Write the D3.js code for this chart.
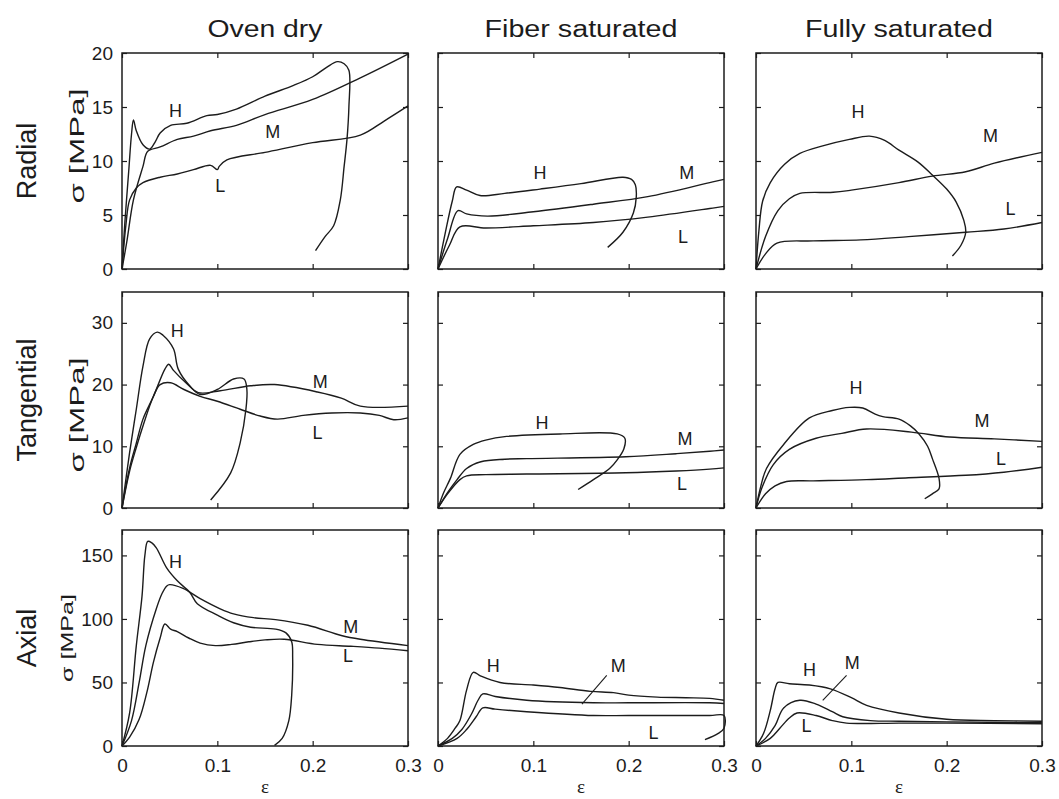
<!DOCTYPE html>
<html>
<head>
<meta charset="utf-8">
<script src="https://cdn.jsdelivr.net/npm/d3@7"></script>
<style>
  body { margin: 0; background: #fff; }
  svg { display: block; font-family: "Liberation Sans", Arial, Helvetica, sans-serif; }
</style>
</head>
<body>
<svg id="chart"></svg>
<script>
// strain (eps) vs stress (sigma, MPa)
var epsTicks = [0, 0.1, 0.2, 0.3];
var columnTitles = ["Oven dry", "Fiber saturated", "Fully saturated"];
var rowTitles = ["Radial", "Tangential", "Axial"];
var sigmaMax = [20, 35, 170];
var sigmaTicks = [[0, 5, 10, 15, 20], [0, 10, 20, 30], [0, 50, 100, 150]];

// --- Radial ---
var radialOvenH = [[0,0],[0.003,4.3],[0.007,9],[0.010,12.5],[0.012,13.8],[0.015,12.8],[0.022,11.5],[0.029,11.1],[0.035,11.8],[0.040,12.6],[0.051,13.3],[0.068,13.5],[0.089,14.2],[0.1,14.3],[0.12,14.8],[0.15,16.0],[0.18,17.0],[0.2,17.8],[0.215,18.7],[0.226,19.2],[0.233,19.0],[0.238,18.4],[0.238,15],[0.236,12],[0.233,9.5],[0.229,6.4],[0.222,4],[0.213,3],[0.203,1.7]];
var radialOvenM = [[0,0],[0.005,2.5],[0.012,6.4],[0.022,9.5],[0.027,10.9],[0.040,11.3],[0.058,12],[0.075,12.3],[0.093,12.8],[0.12,13.3],[0.15,14.3],[0.2,15.7],[0.25,17.7],[0.3,19.9]];
var radialOvenL = [[0,0],[0.004,4],[0.008,6.4],[0.015,7.5],[0.022,8.0],[0.04,8.5],[0.058,8.8],[0.075,9.2],[0.093,9.6],[0.1,9.2],[0.102,9.5],[0.11,10.1],[0.15,10.8],[0.2,11.7],[0.25,12.4],[0.275,13.7],[0.3,15.1]];
var radialOvenLabels = [["H",0.056,14.6],["M",0.158,12.7],["L",0.103,7.7]];

var radialFiberH = [[0,0],[0.008,3.5],[0.015,6.3],[0.0196,7.6],[0.03,7.3],[0.044,6.8],[0.07,7.0],[0.107,7.4],[0.15,7.9],[0.194,8.5],[0.203,8.3],[0.207,7.8],[0.208,6.7],[0.205,5.2],[0.194,3.4],[0.178,2.0]];
var radialFiberM = [[0,0],[0.01,2.8],[0.021,5.4],[0.03,5.1],[0.052,4.9],[0.1,5.3],[0.163,6.0],[0.22,6.7],[0.285,8.0],[0.3,8.3]];
var radialFiberL = [[0,0],[0.012,2.2],[0.023,3.9],[0.05,3.8],[0.1,4.0],[0.163,4.3],[0.22,4.8],[0.285,5.6],[0.3,5.8]];
var radialFiberLabels = [["H",0.107,8.9],["M",0.261,8.9],["L",0.257,3.0]];

var radialFullyH = [[0,0],[0.003,3.5],[0.007,6.3],[0.015,8.0],[0.03,9.7],[0.046,10.7],[0.07,11.4],[0.098,12.0],[0.119,12.3],[0.135,11.9],[0.15,11.0],[0.17,9.9],[0.185,8.7],[0.2,7.4],[0.21,6.2],[0.218,4.5],[0.22,3.4],[0.215,2.2],[0.206,1.2]];
var radialFullyM = [[0,0],[0.01,3.0],[0.023,5.4],[0.035,6.5],[0.046,7.0],[0.081,7.1],[0.1,7.3],[0.15,8.0],[0.185,8.6],[0.22,9.0],[0.25,9.8],[0.3,10.8]];
var radialFullyL = [[0,0],[0.01,1.4],[0.022,2.4],[0.06,2.6],[0.11,2.7],[0.16,3.0],[0.22,3.4],[0.26,3.7],[0.3,4.3]];
var radialFullyLabels = [["H",0.107,14.5],["M",0.246,12.3],["L",0.267,5.6]];

// --- Tangential ---
var tangOvenH = [[0,0],[0.008,9],[0.015,16],[0.022,23],[0.029,27.4],[0.037,28.5],[0.043,28],[0.054,25.8],[0.059,22.5],[0.071,19.8],[0.082,18.4],[0.1,19.2],[0.117,20.9],[0.128,20.9],[0.131,19.2],[0.13,16],[0.124,10.6],[0.114,5.7],[0.093,1.3]];
var tangOvenM = [[0,0],[0.008,6.5],[0.015,10.5],[0.022,14.4],[0.033,18.1],[0.045,22.5],[0.049,23.3],[0.054,22.3],[0.067,20.3],[0.08,18.7],[0.103,19.0],[0.135,19.8],[0.16,20.0],[0.205,18.8],[0.23,17.8],[0.25,16.5],[0.3,16.5]];
var tangOvenL = [[0,0],[0.008,6],[0.015,9.8],[0.022,13.3],[0.033,18.1],[0.04,20],[0.051,20.3],[0.065,19.2],[0.082,18.1],[0.1,17.3],[0.124,16],[0.145,14.9],[0.163,14.4],[0.19,15],[0.22,15.4],[0.25,15.4],[0.27,15.0],[0.285,14.3],[0.3,14.6]];
var tangOvenLabels = [["H",0.058,28.7],["M",0.208,20.4],["L",0.205,12.2]];

var tangFiberH = [[0,0],[0.006,2.5],[0.013,4.8],[0.023,8.7],[0.037,10.3],[0.05,11.0],[0.072,11.6],[0.128,12.0],[0.188,12.0],[0.196,11.3],[0.195,9.6],[0.188,7.8],[0.18,6.4],[0.163,4.6],[0.147,3.0]];
var tangFiberM = [[0,0],[0.01,2.5],[0.02,4.6],[0.03,6.4],[0.045,7.5],[0.07,7.9],[0.093,8.0],[0.197,8.3],[0.25,8.8],[0.285,9.2],[0.3,9.4]];
var tangFiberL = [[0,0],[0.01,2.3],[0.023,4.6],[0.03,5.2],[0.05,5.4],[0.093,5.5],[0.197,5.7],[0.25,6.0],[0.285,6.3],[0.3,6.5]];
var tangFiberLabels = [["H",0.109,13.8],["M",0.259,11.1],["L",0.256,3.9]];

var tangFullyH = [[0,0],[0.005,3.5],[0.011,6.4],[0.029,10.3],[0.056,14.6],[0.08,15.8],[0.098,16.3],[0.112,16.2],[0.125,15.2],[0.133,14.8],[0.15,14.4],[0.162,13.3],[0.171,12.0],[0.18,10],[0.185,8],[0.192,4.8],[0.192,3.1],[0.185,2.3],[0.177,1.5]];
var tangFullyM = [[0,0],[0.006,3.2],[0.018,7.0],[0.035,9.5],[0.063,11.3],[0.09,12.1],[0.116,12.8],[0.163,12.3],[0.203,11.5],[0.25,11.2],[0.3,10.8]];
var tangFullyL = [[0,0],[0.01,2.3],[0.02,3.6],[0.032,4.3],[0.06,4.4],[0.116,4.6],[0.16,4.9],[0.22,5.3],[0.26,5.8],[0.3,6.6]];
var tangFullyLabels = [["H",0.105,19.5],["M",0.237,14.1],["L",0.257,8]];

// --- Axial ---
var axialOvenH = [[0,0],[0.008,26],[0.015,79],[0.021,118],[0.024,150],[0.027,161],[0.031,160],[0.036,156],[0.047,140],[0.058,130],[0.071,121],[0.079,112],[0.1,103],[0.117,97],[0.135,93.5],[0.161,92],[0.172,89],[0.178,82],[0.179,70],[0.178,40],[0.175,20],[0.168,6],[0.16,0.5]];
var axialOvenM = [[0,0],[0.01,20],[0.018,50],[0.025,79],[0.036,108],[0.042,120],[0.047,126],[0.05,127],[0.064,124],[0.082,116],[0.103,108],[0.117,104],[0.138,101],[0.161,99.5],[0.195,95],[0.23,87],[0.25,84],[0.3,79]];
var axialOvenL = [[0,0],[0.008,7],[0.018,21],[0.026,42],[0.033,66],[0.04,85],[0.045,96],[0.051,92],[0.058,90],[0.07,85],[0.082,81],[0.098,79],[0.115,80],[0.133,82],[0.15,83.5],[0.17,84],[0.205,80],[0.24,78.5],[0.27,77],[0.3,75]];
var axialOvenLabels = [["H",0.056,145],["M",0.24,94],["L",0.237,71]];

var axialFiberH = [[0,0],[0.01,6],[0.018,14],[0.023,20],[0.03,44],[0.037,58],[0.045,55],[0.065,50],[0.1,48],[0.128,46],[0.16,43],[0.184,42],[0.2,40],[0.23,38.5],[0.26,38],[0.285,37.5],[0.3,36]];
var axialFiberM = [[0,0],[0.015,6],[0.025,13],[0.035,25],[0.042,36],[0.047,41],[0.06,39],[0.093,36],[0.163,34],[0.2,34],[0.285,34],[0.3,33.5]];
var axialFiberL = [[0,0],[0.02,6],[0.03,13],[0.04,23],[0.047,30],[0.06,29],[0.093,27],[0.163,24],[0.2,24],[0.285,24],[0.3,24],[0.3,14],[0.294,10],[0.28,5]];
var axialFiberLabels = [["H",0.058,63],["M",0.189,63],["L",0.226,10]];
var axialFiberLeader = [[0.177,55.5],[0.151,33]];

var axialFullyH = [[0,0],[0.008,10],[0.015,28],[0.02,45],[0.023,50],[0.035,49],[0.056,48],[0.078,45],[0.1,38],[0.116,32],[0.15,26],[0.2,21],[0.25,20],[0.3,19.5]];
var axialFullyM = [[0,0],[0.01,6],[0.02,16],[0.029,30],[0.046,36],[0.063,33],[0.08,27],[0.091,23],[0.12,20],[0.15,19.5],[0.2,19],[0.3,18.5]];
var axialFullyL = [[0,0],[0.015,6],[0.025,14],[0.035,22],[0.043,26],[0.063,24],[0.08,20],[0.095,18],[0.15,18],[0.2,18],[0.3,17.5]];
var axialFullyLabels = [["H",0.056,60],["M",0.101,65],["L",0.053,16]];
var axialFullyLeader = [[0.095,55.5],[0.07,36]];

var panels = [
  {row: 0, col: 0, curves: [radialOvenH, radialOvenM, radialOvenL], labels: radialOvenLabels},
  {row: 0, col: 1, curves: [radialFiberH, radialFiberM, radialFiberL], labels: radialFiberLabels},
  {row: 0, col: 2, curves: [radialFullyH, radialFullyM, radialFullyL], labels: radialFullyLabels},
  {row: 1, col: 0, curves: [tangOvenH, tangOvenM, tangOvenL], labels: tangOvenLabels},
  {row: 1, col: 1, curves: [tangFiberH, tangFiberM, tangFiberL], labels: tangFiberLabels},
  {row: 1, col: 2, curves: [tangFullyH, tangFullyM, tangFullyL], labels: tangFullyLabels},
  {row: 2, col: 0, curves: [axialOvenH, axialOvenM, axialOvenL], labels: axialOvenLabels},
  {row: 2, col: 1, curves: [axialFiberH, axialFiberM, axialFiberL], labels: axialFiberLabels, leader: axialFiberLeader},
  {row: 2, col: 2, curves: [axialFullyH, axialFullyM, axialFullyL], labels: axialFullyLabels, leader: axialFullyLeader}
];

// layout
var width = 1059, height = 799;
var colX = [122, 438, 756], panelW = 286;
var rowY = [53, 292, 530], panelH = 216;
var titleLen = [115, 193, 188];
var sigmaLabel = [{x: 84, y: 146, size: 20, len: 115}, {x: 84, y: 415, size: 20, len: 115}, {x: 73, y: 638, size: 16, len: 88}];
var ink = "#1c1c1c";

var svg = d3.select("#chart")
            .attr("width", width)
            .attr("height", height);

var x = d3.scaleLinear().domain([0, 0.3]).range([0, panelW]);
var fmtX = function (d) { return d === 0 ? "0" : d3.format(".1f")(d); };

panels.forEach(function (p) {
    var y = d3.scaleLinear().domain([0, sigmaMax[p.row]]).range([panelH, 0]);
    var g = svg.append("g")
               .attr("transform", "translate(" + colX[p.col] + "," + rowY[p.row] + ")");

    var left = d3.axisLeft(y).tickValues(sigmaTicks[p.row]).tickSizeInner(-5).tickSizeOuter(0).tickPadding(9);
    if (p.col > 0) left.tickFormat("");
    var right = d3.axisRight(y).tickValues(sigmaTicks[p.row]).tickSizeInner(-5).tickSizeOuter(0).tickFormat("");
    var bottom = d3.axisBottom(x).tickValues(epsTicks).tickSizeInner(-5).tickSizeOuter(0).tickPadding(13).tickFormat(fmtX);
    if (p.row < 2) bottom.tickFormat("");
    var top = d3.axisTop(x).tickValues(epsTicks).tickSizeInner(-5).tickSizeOuter(0).tickFormat("");

    g.append("g").call(left);
    g.append("g").attr("transform", "translate(" + panelW + ",0)").call(right);
    g.append("g").attr("transform", "translate(0," + panelH + ")").call(bottom);
    g.append("g").call(top);

    g.selectAll(".domain").remove();
    g.selectAll(".tick line").attr("stroke", ink).attr("stroke-width", 1.2);
    g.selectAll(".tick text").attr("fill", ink).style("font-size", "19px")
     .style("font-family", "'Liberation Sans', Arial, sans-serif");

    g.append("rect")
     .attr("width", panelW)
     .attr("height", panelH)
     .attr("fill", "none")
     .attr("stroke", ink)
     .attr("stroke-width", 1.5);

    var line = d3.line()
                 .x(function (d) { return x(d[0]); })
                 .y(function (d) { return y(d[1]); })
                 .curve(d3.curveCatmullRom.alpha(0.5));

    g.selectAll(".curve")
     .data(p.curves)
     .enter()
     .append("path")
     .attr("class", "curve")
     .attr("fill", "none")
     .attr("stroke", ink)
     .attr("stroke-width", 1.4)
     .attr("stroke-linejoin", "round")
     .attr("d", line);

    if (p.leader) {
        g.append("path")
         .attr("fill", "none")
         .attr("stroke", ink)
         .attr("stroke-width", 1.1)
         .attr("d", d3.line().x(function (d) { return x(d[0]); }).y(function (d) { return y(d[1]); })(p.leader));
    }

    g.selectAll(".lab")
     .data(p.labels)
     .enter()
     .append("text")
     .attr("class", "lab")
     .attr("x", function (d) { return x(d[1]); })
     .attr("y", function (d) { return y(d[2]); })
     .attr("text-anchor", "middle")
     .attr("dominant-baseline", "central")
     .attr("fill", ink)
     .style("font-size", "18px")
     .text(function (d) { return d[0]; });
});

// column titles
svg.selectAll(".coltitle")
   .data(columnTitles)
   .enter()
   .append("text")
   .attr("x", function (d, i) { return colX[i] + panelW / 2; })
   .attr("y", 37)
   .attr("text-anchor", "middle")
   .attr("textLength", function (d, i) { return titleLen[i]; })
   .attr("lengthAdjust", "spacingAndGlyphs")
   .attr("fill", ink)
   .style("font-size", "23px")
   .text(function (d) { return d; });

// row titles
svg.selectAll(".rowtitle")
   .data(rowTitles)
   .enter()
   .append("text")
   .attr("transform", function (d, i) { return "translate(36," + (rowY[i] + panelH / 2) + ") rotate(-90)"; })
   .attr("text-anchor", "middle")
   .attr("fill", ink)
   .style("font-size", "27px")
   .text(function (d) { return d; });

// sigma axis labels
svg.selectAll(".sig")
   .data(sigmaLabel)
   .enter()
   .append("text")
   .attr("transform", function (d) { return "translate(" + d.x + "," + d.y + ") rotate(-90)"; })
   .attr("text-anchor", "middle")
   .attr("textLength", function (d) { return d.len; })
   .attr("lengthAdjust", "spacingAndGlyphs")
   .attr("fill", ink)
   .style("font-size", function (d) { return d.size + "px"; })
   .text("σ [MPa]");

// epsilon labels
svg.selectAll(".eps")
   .data(columnTitles)
   .enter()
   .append("text")
   .attr("x", function (d, i) { return colX[i] + panelW / 2; })
   .attr("y", 793)
   .attr("text-anchor", "middle")
   .attr("fill", ink)
   .style("font-size", "19px")
   .style("font-family", "'Liberation Serif', 'DejaVu Serif', serif")
   .text("ε");
</script>
</body>
</html>
